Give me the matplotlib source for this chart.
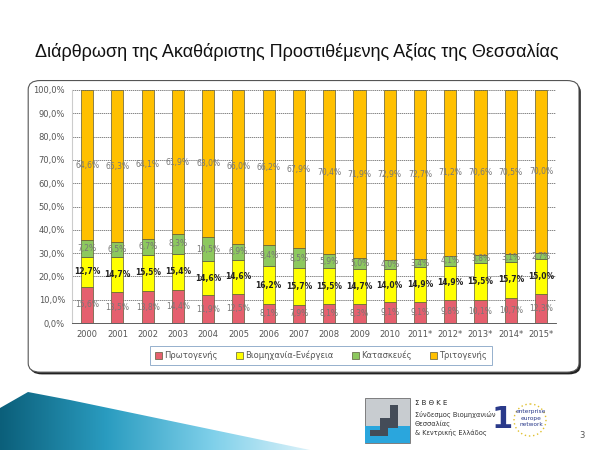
import numpy as np
import matplotlib
matplotlib.use('Agg')
import matplotlib.pyplot as plt
from matplotlib.patches import FancyBboxPatch, Polygon, Rectangle

years = ['2000', '2001', '2002', '2003', '2004', '2005', '2006', '2007',
         '2008', '2009', '2010', '2011*', '2012*', '2013*', '2014*', '2015*']
primary = [15.6, 13.5, 13.8, 14.4, 11.9, 12.5, 8.1, 7.9,
           8.1, 8.3, 9.1, 9.1, 9.8, 10.1, 10.7, 12.3]
industry = [12.7, 14.7, 15.5, 15.4, 14.6, 14.6, 16.2, 15.7,
            15.5, 14.7, 14.0, 14.9, 14.9, 15.5, 15.7, 15.0]
construction = [7.2, 6.5, 6.7, 8.3, 10.5, 6.9, 9.4, 8.5,
                5.9, 5.0, 4.0, 3.4, 4.1, 3.8, 3.1, 2.7]
tertiary = [64.6, 65.3, 64.1, 61.9, 63.0, 66.0, 66.2, 67.9,
            70.4, 71.9, 72.9, 72.7, 71.2, 70.6, 70.5, 70.0]

series_names = ['Πρωτογενής', 'Βιομηχανία-Ενέργεια', 'Κατασκευές', 'Τριτογενής']
series = [primary, industry, construction, tertiary]
colors = ['#E5606E', '#FFFF00', '#8DC85E', '#FFC000']
label_colors = ['#777777', '#222222', '#777777', '#777777']
label_weights = ['normal', 'bold', 'normal', 'normal']

fig = plt.figure(figsize=(6, 4.5), dpi=100)
fig.patch.set_facecolor('white')

# rounded frame with shadow
shadow = FancyBboxPatch((0.050, 0.168), 0.918, 0.648, boxstyle='round,pad=0,rounding_size=0.02',
                        transform=fig.transFigure, facecolor='#222222', edgecolor='none', zorder=0)
frame = FancyBboxPatch((0.047, 0.173), 0.918, 0.648, boxstyle='round,pad=0,rounding_size=0.02',
                       transform=fig.transFigure, facecolor='white', edgecolor='#555555', lw=0.8, zorder=1)
fig.patches.extend([shadow, frame])

fig.text(0.058, 0.885, 'Διάρθρωση της Ακαθάριστης Προστιθέμενης Αξίας της Θεσσαλίας',
         fontsize=13, family='Liberation Sans', color='#111111', va='center')

ax = fig.add_axes([0.12, 0.282, 0.807, 0.518], zorder=2)
ax.set_facecolor('none')
x = np.arange(len(years))
bottom = np.zeros(len(years))
for vals, col, name, lc, lw in zip(series, colors, series_names, label_colors, label_weights):
    vals = np.array(vals)
    ax.bar(x, vals, 0.4, bottom=bottom, color=col, edgecolor='#5a5a3a', linewidth=0.5,
           label=name, zorder=3)
    for xi, v, b0 in zip(x, vals, bottom):
        ax.text(xi, b0 + v / 2, f'{v:.1f}%'.replace('.', ','), ha='center', va='center',
                fontsize=5.5, color=lc, fontweight=lw, zorder=4)
    bottom += vals

ax.set_xlim(-0.5, len(years) - 0.5)
ax.set_ylim(0, 100)
ax.set_yticks(np.arange(0, 101, 10))
ax.set_yticklabels([f'{v:.1f}%'.replace('.', ',') for v in range(0, 101, 10)])
ax.set_xticks(x)
ax.set_xticklabels(years)
ax.tick_params(axis='both', labelsize=6, colors='#555555', length=0, pad=5)
ax.yaxis.grid(True, linestyle=(0, (2, 1)), color='#555555', linewidth=0.5, zorder=0)
for s in ['top', 'right']:
    ax.spines[s].set_visible(False)
ax.spines['left'].set_color('#cccccc')
ax.spines['bottom'].set_color('#444444')
ax.spines['bottom'].set_linewidth(0.6)

leg = fig.legend(loc='center', bbox_to_anchor=(0.535, 0.21), ncol=4, fontsize=6,
                 frameon=True, fancybox=False, handlelength=0.8, handleheight=0.8,
                 columnspacing=2.2, handletextpad=0.3, borderpad=0.6)
leg.get_frame().set_edgecolor('#7a9cc0')
leg.get_frame().set_linewidth(0.7)
for t in leg.get_texts():
    t.set_color('#555555')

# blue wedge bottom left
deco = fig.add_axes([0, 0, 1, 1], zorder=0)
deco.set_xlim(0, 600)
deco.set_ylim(450, 0)
deco.axis('off')
grad = np.linspace(0, 1, 256).reshape(1, -1)
img = deco.imshow(grad, extent=[0, 320, 450, 390], cmap=matplotlib.colors.LinearSegmentedColormap.from_list(
    'w', ['#0b5f7a', '#2a9cc0', '#7fd0ea', '#e5f5fb']), aspect='auto', zorder=1)
poly = Polygon([[0, 450], [0, 408], [28, 392], [70, 400], [310, 450]], closed=True,
               transform=deco.transData, facecolor='none', edgecolor='none')
deco.add_patch(poly)
img.set_clip_path(poly)

# logos
deco.add_patch(Rectangle((365, 398), 45, 45, facecolor='#c8ccd0', edgecolor='#555555', lw=0.5))
deco.add_patch(Rectangle((365, 426), 45, 17, facecolor='#2aa6dd', edgecolor='none'))
deco.add_patch(Polygon([[370, 430], [380, 430], [380, 418], [390, 418], [390, 405], [398, 405],
                        [398, 428], [388, 428], [388, 436], [370, 436]],
                       facecolor='#444c58', edgecolor='none'))
deco.text(415, 403, 'Σ Β Θ Κ Ε', fontsize=5, color='#222222', va='center')
for i, line in enumerate(['Σύνδεσμος Βιομηχανιών', 'Θεσσαλίας', '& Κεντρικής Ελλάδος']):
    deco.text(415, 414 + i * 9.5, line, fontsize=4.8, color='#333333', va='center')
deco.text(502, 420, '1', fontsize=22, color='#2a3a8a', va='center', ha='center', fontweight='bold')
circle = matplotlib.patches.Circle((530, 420), 16, facecolor='none', edgecolor='#e0c030', lw=1.0,
                                   linestyle=(0, (1, 2)))
deco.add_patch(circle)
for i, line in enumerate(['enterprise', 'europe', 'network']):
    deco.text(531, 412 + i * 6.5, line, fontsize=4.2, color='#2a3a8a', va='center', ha='center')
deco.text(582, 436, '3', fontsize=6, color='#555555', va='center', ha='center')

fig.savefig('out.png', dpi=100)
